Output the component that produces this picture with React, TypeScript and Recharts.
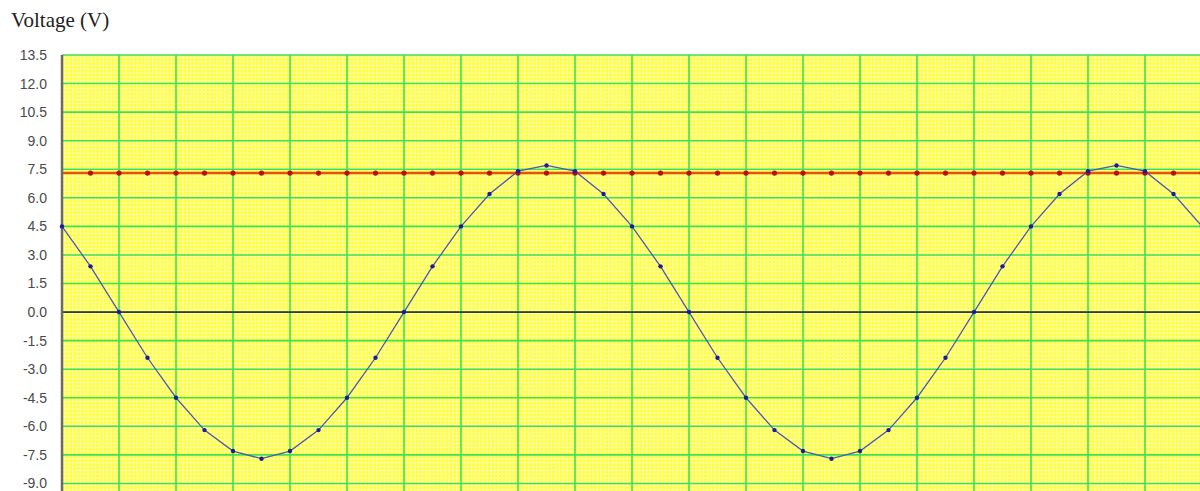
import { ComposedChart, Line, XAxis, YAxis, CartesianGrid, ReferenceLine } from 'recharts';

// sample index along the time axis
const samples = [
  0, 1, 2, 3, 4, 5, 6, 7, 8, 9, 10, 11, 12, 13, 14, 15, 16, 17, 18, 19, 20,
  21, 22, 23, 24, 25, 26, 27, 28, 29, 30, 31, 32, 33, 34, 35, 36, 37, 38, 39, 40,
];

// blue trace (instantaneous voltage)
const voltage = [
  4.5, 2.4, 0.0, -2.4, -4.5, -6.2, -7.3, -7.7, -7.3, -6.2, -4.5, -2.4, 0.0, 2.4, 4.5, 6.2, 7.4, 7.7, 7.4, 6.2, 4.5,
  2.4, 0.0, -2.4, -4.5, -6.2, -7.3, -7.7, -7.3, -6.2, -4.5, -2.4, 0.0, 2.4, 4.5, 6.2, 7.4, 7.7, 7.4, 6.2, 4.5,
];

// red trace (constant level)
const level = [
  7.3, 7.3, 7.3, 7.3, 7.3, 7.3, 7.3, 7.3, 7.3, 7.3, 7.3, 7.3, 7.3, 7.3, 7.3, 7.3, 7.3, 7.3, 7.3, 7.3, 7.3,
  7.3, 7.3, 7.3, 7.3, 7.3, 7.3, 7.3, 7.3, 7.3, 7.3, 7.3, 7.3, 7.3, 7.3, 7.3, 7.3, 7.3, 7.3, 7.3, 7.3,
];

const yTicks = [-10.5, -9, -7.5, -6, -4.5, -3, -1.5, 0, 1.5, 3, 4.5, 6, 7.5, 9, 10.5, 12, 13.5];
const xTicks = [0, 2, 4, 6, 8, 10, 12, 14, 16, 18, 20, 22, 24, 26, 28, 30, 32, 34, 36, 38, 40];

const data = samples.map((t, i) => ({ t, v: voltage[i], r: level[i] }));

const GRID = '#3ddf5e';

const RedDot = (props: any) => {
  const { cx, cy, index } = props;
  if (index === 0) return <g key={`rd-${index}`} />;
  return <circle key={`rd-${index}`} cx={cx} cy={cy} r={2.6} fill="#b81010" />;
};

export default function App() {
  return (
    <div
      style={{
        position: 'absolute',
        left: 0,
        top: 0,
        width: 1200,
        height: 491,
        overflow: 'hidden',
        background: '#fff',
      }}
    >
      <div
        style={{
          position: 'absolute',
          left: 11,
          top: 8,
          fontFamily: '"Liberation Serif", serif',
          fontSize: 21,
          color: '#222',
        }}
      >
        Voltage (V)
      </div>
      <div style={{ position: 'absolute', left: 0, top: 0 }}>
        <ComposedChart
          width={1210}
          height={530}
          data={data}
          margin={{ top: 55, right: 8, bottom: 17, left: 0 }}
        >
          <defs>
            <pattern id="minorGrid" patternUnits="userSpaceOnUse" width={3.8} height={3.82}>
              <rect x={0} y={0} width={3.8} height={3.82} fill="#ffff30" />
              <path d="M0 0.5 H3.8 M0.5 0 V3.82" stroke="#ffffb8" strokeWidth={1.1} />
            </pattern>
          </defs>
          <CartesianGrid
            fill="url(#minorGrid)"
            fillOpacity={1}
            stroke={GRID}
            strokeWidth={1.6}
            vertical={false}
          />
          <XAxis
            dataKey="t"
            type="number"
            domain={[0, 40]}
            ticks={xTicks}
            tick={false}
            tickLine={false}
            axisLine={false}
            height={1}
          />
          <YAxis
            type="number"
            domain={[-10.5, 13.5]}
            ticks={yTicks}
            interval={0}
            width={62}
            axisLine={{ stroke: '#6a6a6a', strokeWidth: 2.5 }}
            tickLine={false}
            tickMargin={9}
            tick={{ fontSize: 14, fill: '#4a4a4a', fontFamily: '"Liberation Sans", Arial, sans-serif' }}
            tickFormatter={(v: number) => v.toFixed(1)}
          />
          {xTicks.slice(1).map((x) => (
            <ReferenceLine key={`vx-${x}`} x={x} stroke={GRID} strokeWidth={1.6} />
          ))}
          <ReferenceLine y={0} stroke="#3a3a3a" strokeWidth={1.8} />
          <Line
            dataKey="r"
            type="linear"
            stroke="#e4501c"
            strokeWidth={2.6}
            dot={<RedDot />}
            isAnimationActive={false}
          />
          <Line
            dataKey="v"
            type="linear"
            stroke="#4a58b8"
            strokeWidth={1.3}
            dot={{ r: 2.2, fill: '#1c1c9a', stroke: 'none' }}
            isAnimationActive={false}
          />
        </ComposedChart>
      </div>
    </div>
  );
}
